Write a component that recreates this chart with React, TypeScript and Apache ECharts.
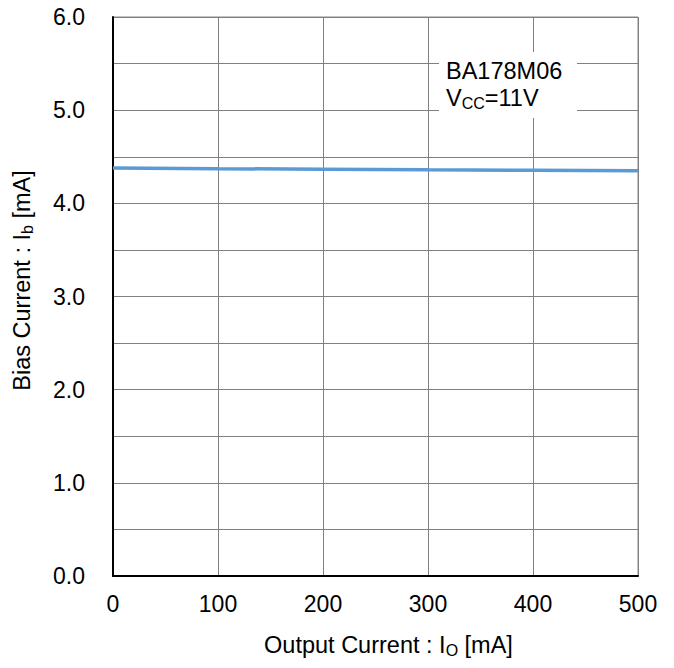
import React, { useEffect, useRef } from "react";
import * as echarts from "echarts";

const outputCurrent = [0, 100, 200, 300, 400, 500];
const biasCurrent = [4.38, 4.372, 4.366, 4.36, 4.355, 4.35];
const xTicks = [0, 100, 200, 300, 400, 500];
const yLabels = ["0.0", "1.0", "2.0", "3.0", "4.0", "5.0", "6.0"];
const deviceName = "BA178M06";

const FONT = "Liberation Sans, Arial, sans-serif";
const FS = 23;
const FSN = 23.5;

export default function App() {
  const ref = useRef<HTMLDivElement>(null);
  useEffect(() => {
    if (!ref.current) return;
    const chart = echarts.init(ref.current, null, { renderer: "svg" });
    chart.setOption({
      animation: false,
      textStyle: { fontFamily: FONT },
      grid: {
        left: 113, right: 36, top: 17, bottom: 92,
        show: true, borderColor: "#888", borderWidth: 1,
        outerBoundsMode: "none", containLabel: false,
      },
      xAxis: {
        type: "value",
        min: xTicks[0],
        max: xTicks[xTicks.length - 1],
        interval: 100,
        axisLine: { show: true, lineStyle: { color: "#000", width: 2 } },
        axisTick: { show: false },
        splitLine: { show: true, lineStyle: { color: "#808080", width: 1 } },
        axisLabel: { color: "#000", fontSize: FS, fontFamily: FONT, margin: 16 },
        name: "{a|Output Current : I}{s|O}{a| [mA]}",
        nameLocation: "middle",
        nameGap: 55,
        nameTextStyle: {
          padding: [0, 0, 0, 26],
          rich: {
            a: { fontSize: FSN, color: "#000", fontFamily: FONT, lineHeight: 27 },
            s: { fontSize: 16, color: "#000", fontFamily: FONT, lineHeight: 27, verticalAlign: "bottom", padding: [12, 0, 0, 0] },
          },
        },
      },
      yAxis: {
        type: "value",
        min: 0,
        max: 6,
        interval: 0.5,
        axisLine: { show: true, lineStyle: { color: "#000", width: 2 } },
        axisTick: { show: false },
        splitLine: { show: true, lineStyle: { color: "#808080", width: 1 } },
        axisLabel: {
          color: "#000",
          fontSize: FS,
          fontFamily: FONT,
          margin: 28,
          formatter: (v: number) => {
            const i = Math.round(v);
            return Math.abs(v - i) < 1e-6 ? yLabels[i] : "";
          },
        },
        name: "{a|Bias Current : I}{s|b}{a| [mA]}",
        nameLocation: "middle",
        nameGap: 78,
        nameTextStyle: {
          padding: [0, 0, 0, 32],
          rich: {
            a: { fontSize: FSN, color: "#000", fontFamily: FONT, lineHeight: 27 },
            s: { fontSize: 16, color: "#000", fontFamily: FONT, lineHeight: 27, verticalAlign: "bottom", padding: [12, 0, 0, 0] },
          },
        },
      },
      graphic: [
        {
          type: "rect",
          shape: { x: 439, y: 52, width: 138, height: 66 },
          style: { fill: "#fff", stroke: null },
          z: 10,
        },
        {
          type: "text",
          x: 446,
          y: 57,
          z: 11,
          style: {
            text: "{a|" + deviceName + "}\n{a|V}{s|CC}{a|=11V}",
            rich: {
              a: { fontSize: FSN, fill: "#000", fontFamily: FONT, lineHeight: 27 },
              s: { fontSize: 16, fill: "#000", fontFamily: FONT, verticalAlign: "bottom", lineHeight: 27, padding: [12, 0, 0, 0] },
            },
          },
        },
      ],
      series: [
        {
          type: "line",
          data: outputCurrent.map((x, i) => [x, biasCurrent[i]]),
          showSymbol: false,
          lineStyle: { color: "#5b9bd5", width: 3.5 },
          z: 5,
        },
      ],
    });
    return () => chart.dispose();
  }, []);
  return <div ref={ref} style={{ width: 674, height: 668, position: "absolute", left: 0, top: 0 }} />;
}
